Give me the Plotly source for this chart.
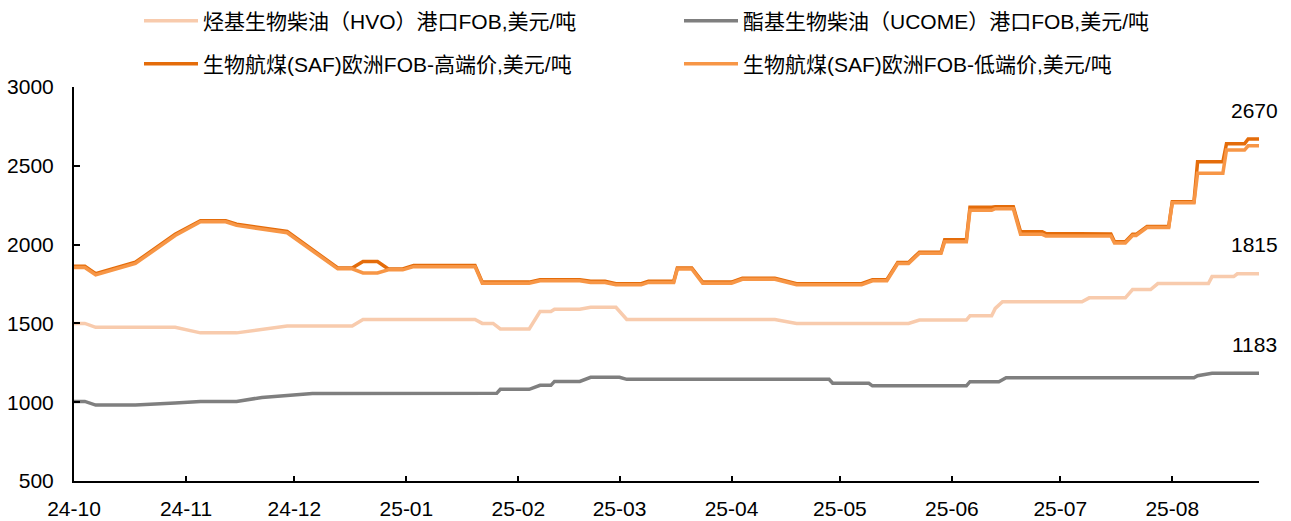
import plotly.graph_objects as go

# 烃基生物柴油（HVO）港口FOB, 美元/吨
hvo_dates = ["2024-10-01", "2024-10-04", "2024-10-07", "2024-10-29", "2024-11-05", "2024-11-15",
             "2024-11-29", "2024-12-17", "2024-12-20", "2025-01-20", "2025-01-22", "2025-01-25",
             "2025-01-27", "2025-02-04", "2025-02-07", "2025-02-10", "2025-02-11", "2025-02-18",
             "2025-02-21", "2025-02-28", "2025-03-03", "2025-04-13", "2025-04-19", "2025-05-20",
             "2025-05-23", "2025-06-05", "2025-06-06", "2025-06-12", "2025-06-13", "2025-06-15",
             "2025-07-07", "2025-07-09", "2025-07-19", "2025-07-21", "2025-07-26", "2025-07-28",
             "2025-08-11", "2025-08-12", "2025-08-18", "2025-08-19", "2025-08-25"]
hvo_values = [1500, 1500, 1475, 1475, 1440, 1440,
              1483, 1483, 1525, 1525, 1500, 1500,
              1465, 1465, 1575, 1575, 1590, 1590,
              1602, 1602, 1525, 1525, 1500, 1500,
              1521, 1521, 1548, 1548, 1595, 1637,
              1637, 1662, 1662, 1715, 1715, 1753,
              1753, 1797, 1797, 1815, 1815]

# 酯基生物柴油（UCOME）港口FOB, 美元/吨
ucome_dates = ["2024-10-01", "2024-10-04", "2024-10-07", "2024-10-18", "2024-10-29", "2024-11-05",
               "2024-11-15", "2024-11-22", "2024-12-06", "2025-01-26", "2025-01-27", "2025-02-04",
               "2025-02-07", "2025-02-10", "2025-02-11", "2025-02-18", "2025-02-21", "2025-03-01",
               "2025-03-03", "2025-04-28", "2025-04-29", "2025-05-09", "2025-05-10", "2025-06-05",
               "2025-06-06", "2025-06-14", "2025-06-16", "2025-08-07", "2025-08-08", "2025-08-12",
               "2025-08-25"]
ucome_values = [1005, 1005, 982, 982, 995, 1005,
                1005, 1030, 1055, 1056, 1082, 1082,
                1107, 1107, 1132, 1132, 1158, 1158,
                1145, 1145, 1120, 1120, 1104, 1104,
                1130, 1130, 1155, 1155, 1168, 1183,
                1183]

# 生物航煤(SAF)欧洲FOB 高端价 / 低端价, 美元/吨
saf_dates = ["2024-10-01", "2024-10-04", "2024-10-07", "2024-10-14", "2024-10-18", "2024-10-29",
             "2024-11-05", "2024-11-12", "2024-11-15", "2024-11-29", "2024-12-13", "2024-12-17",
             "2024-12-20", "2024-12-24", "2024-12-27", "2024-12-31", "2025-01-03", "2025-01-20",
             "2025-01-22", "2025-02-04", "2025-02-07", "2025-02-18", "2025-02-21", "2025-02-25",
             "2025-02-28", "2025-03-07", "2025-03-09", "2025-03-16", "2025-03-17", "2025-03-21",
             "2025-03-24", "2025-04-01", "2025-04-04", "2025-04-13", "2025-04-19", "2025-05-07",
             "2025-05-10", "2025-05-14", "2025-05-17", "2025-05-20", "2025-05-23", "2025-05-29",
             "2025-05-30", "2025-06-05", "2025-06-06", "2025-06-12", "2025-06-13", "2025-06-18",
             "2025-06-20", "2025-06-26", "2025-06-27", "2025-07-15", "2025-07-16", "2025-07-19",
             "2025-07-21", "2025-07-22", "2025-07-25", "2025-07-31", "2025-08-01", "2025-08-07",
             "2025-08-08", "2025-08-15", "2025-08-16", "2025-08-21", "2025-08-22", "2025-08-25"]
saf_high = [1862, 1862, 1815, 1860, 1888, 2065,
            2152, 2152, 2130, 2083, 1852, 1852,
            1893, 1893, 1845, 1845, 1867, 1867,
            1762, 1762, 1777, 1777, 1767, 1767,
            1752, 1752, 1767, 1767, 1852, 1852,
            1762, 1762, 1787, 1787, 1752, 1752,
            1777, 1777, 1887, 1887, 1952, 1952,
            2030, 2030, 2237, 2237, 2240, 2240,
            2082, 2082, 2070, 2068, 2018, 2018,
            2065, 2065, 2115, 2115, 2272, 2272,
            2525, 2525, 2640, 2640, 2670, 2670]
saf_low = [1855, 1855, 1808, 1853, 1880, 2058,
           2145, 2145, 2122, 2075, 1846, 1846,
           1820, 1820, 1840, 1840, 1860, 1860,
           1755, 1755, 1770, 1770, 1760, 1760,
           1745, 1745, 1760, 1760, 1845, 1845,
           1755, 1755, 1780, 1780, 1745, 1745,
           1770, 1770, 1880, 1880, 1945, 1945,
           2018, 2018, 2218, 2218, 2228, 2228,
           2065, 2065, 2055, 2055, 2010, 2010,
           2058, 2058, 2108, 2108, 2265, 2265,
           2452, 2452, 2600, 2600, 2627, 2627]

names = ["烃基生物柴油（HVO）港口FOB,美元/吨", "酯基生物柴油（UCOME）港口FOB,美元/吨",
         "生物航煤(SAF)欧洲FOB-高端价,美元/吨", "生物航煤(SAF)欧洲FOB-低端价,美元/吨"]
colors = ["#F8CBAD", "#7F7F7F", "#E46C0A", "#F79646"]

FONT = "Arial, 'Liberation Sans', 'Noto Sans CJK SC', sans-serif"
LW = 3.5

fig = go.Figure()
fig.add_trace(go.Scatter(x=hvo_dates, y=hvo_values, name=names[0], mode="lines",
                         line=dict(color=colors[0], width=LW), legend="legend"))
fig.add_trace(go.Scatter(x=ucome_dates, y=ucome_values, name=names[1], mode="lines",
                         line=dict(color=colors[1], width=LW), legend="legend"))
fig.add_trace(go.Scatter(x=saf_dates, y=saf_high, name=names[2], mode="lines",
                         line=dict(color=colors[2], width=LW), legend="legend2"))
fig.add_trace(go.Scatter(x=saf_dates, y=saf_low, name=names[3], mode="lines",
                         line=dict(color=colors[3], width=LW), legend="legend2"))

# end-of-series value labels
for d, v in [(saf_dates[-1], saf_high[-1]), (hvo_dates[-1], hvo_values[-1]),
             (ucome_dates[-1], ucome_values[-1])]:
    fig.add_annotation(x=d, y=v, text=str(v), showarrow=False, xanchor="center",
                       yanchor="middle", xshift=-5, yshift=29,
                       font=dict(size=21, color="#000000", family=FONT))

legend_common = dict(orientation="h", xref="container", yref="container", x=139 / 1291,
                     xanchor="left", yanchor="middle", itemwidth=54, entrywidth=471,
                     entrywidthmode="pixels", bgcolor="rgba(0,0,0,0)",
                     font=dict(size=21, color="#000000", family=FONT))

fig.update_layout(
    width=1291, height=521,
    margin=dict(l=74, r=32, t=87, b=40, autoexpand=False),
    paper_bgcolor="white", plot_bgcolor="white",
    font=dict(family=FONT, size=21, color="#000000"),
    showlegend=True,
    legend=dict(y=1 - 21 / 521, **legend_common),
    legend2=dict(y=1 - 64 / 521, **legend_common),
    xaxis=dict(type="date", range=["2024-10-01", "2025-08-25"], tick0="2024-10-01",
               dtick="M1", tickformat="%y-%m", ticks="inside", ticklen=5, tickwidth=1.5,
               tickcolor="#000000", showline=True, linecolor="#000000", linewidth=2,
               showgrid=False, zeroline=False, ticklabelstandoff=8,
               tickfont=dict(size=21, family=FONT, color="#000000")),
    yaxis=dict(range=[500, 3000], dtick=500, ticks="inside", ticklen=6, tickwidth=1.5,
               tickcolor="#000000", showline=True, linecolor="#000000", linewidth=2,
               showgrid=False, zeroline=False, ticklabelstandoff=14,
               tickfont=dict(size=21, family=FONT, color="#000000")),
)

fig.write_html("out.html")
